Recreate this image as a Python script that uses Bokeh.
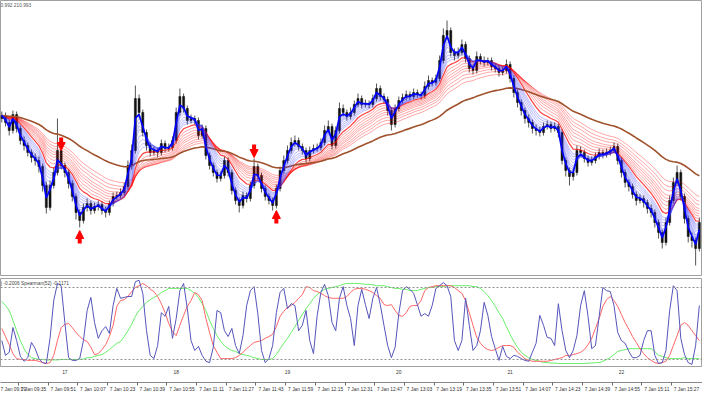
import pandas as pd
from bokeh.plotting import figure
from bokeh.layouts import column
from bokeh.models import (Range1d, ColumnDataSource, Span, Label, LinearAxis,
                          FixedTicker, Arrow, NormalHead)
from bokeh.embed import file_html
from bokeh.resources import INLINE

DAY = "2019-01-07 "
first_bar = "09:26"      # 2-minute bars

open_ = [210.764,210.770,210.756,210.740,210.772,210.744,210.720,210.710,210.696,210.686,
 210.680,210.668,210.630,210.586,210.630,210.656,210.700,210.670,210.656,210.634,
 210.608,210.576,210.560,210.586,210.594,210.580,210.588,210.592,210.580,210.576,
 210.594,210.608,210.610,210.616,210.628,210.670,210.700,210.804,210.776,210.736,
 210.710,210.696,210.700,210.696,210.714,210.704,210.706,210.720,210.776,210.808,
 210.784,210.760,210.764,210.760,210.730,210.744,210.690,210.670,210.656,210.644,
 210.650,210.680,210.656,210.620,210.600,210.590,210.610,210.604,210.630,210.668,
 210.650,210.624,210.608,210.600,210.590,210.624,210.660,210.680,210.700,210.716,
 210.720,210.708,210.700,210.684,210.700,210.704,210.706,210.716,210.740,210.748,
 210.710,210.740,210.784,210.776,210.768,210.776,210.792,210.804,210.792,210.794,
 210.792,210.804,210.824,210.808,210.802,210.780,210.752,210.784,210.800,210.806,
 210.812,210.808,210.816,210.812,210.810,210.828,210.840,210.836,210.844,210.880,
 210.930,210.940,210.896,210.890,210.896,210.912,210.884,210.864,210.860,210.888,
 210.880,210.876,210.880,210.868,210.864,210.856,210.860,210.872,210.844,210.816,
 210.796,210.780,210.764,210.756,210.744,210.740,210.736,210.748,210.752,210.744,
 210.748,210.736,210.680,210.660,210.648,210.656,210.700,210.696,210.684,210.676,
 210.680,210.688,210.696,210.692,210.696,210.700,210.708,210.680,210.656,210.636,
 210.628,210.612,210.600,210.604,210.596,210.584,210.576,210.556,210.536,210.516,
 210.556,210.600,210.636,210.656,210.608,210.564,210.528,210.520,210.504]

close = [210.770,210.756,210.740,210.772,210.744,210.720,210.710,210.696,210.686,210.680,
 210.668,210.630,210.586,210.630,210.656,210.700,210.670,210.656,210.634,210.608,
 210.576,210.560,210.586,210.594,210.580,210.588,210.592,210.580,210.576,210.594,
 210.608,210.610,210.616,210.628,210.670,210.700,210.804,210.776,210.736,210.710,
 210.696,210.700,210.696,210.714,210.704,210.706,210.720,210.776,210.808,210.784,
 210.760,210.764,210.760,210.730,210.744,210.690,210.670,210.656,210.644,210.650,
 210.680,210.656,210.620,210.600,210.590,210.610,210.604,210.630,210.668,210.650,
 210.624,210.608,210.600,210.590,210.624,210.660,210.680,210.700,210.716,210.720,
 210.708,210.700,210.684,210.700,210.704,210.706,210.716,210.740,210.748,210.710,
 210.740,210.784,210.776,210.768,210.776,210.792,210.804,210.792,210.794,210.792,
 210.804,210.824,210.808,210.802,210.780,210.752,210.784,210.800,210.806,210.812,
 210.808,210.816,210.812,210.810,210.828,210.840,210.836,210.844,210.880,210.930,
 210.940,210.896,210.890,210.896,210.912,210.884,210.864,210.860,210.888,210.880,
 210.876,210.880,210.868,210.864,210.856,210.860,210.872,210.844,210.816,210.796,
 210.780,210.764,210.756,210.744,210.740,210.736,210.748,210.752,210.744,210.748,
 210.736,210.680,210.660,210.648,210.656,210.700,210.696,210.684,210.676,210.680,
 210.688,210.696,210.692,210.696,210.700,210.708,210.680,210.656,210.636,210.628,
 210.612,210.600,210.604,210.596,210.584,210.576,210.556,210.536,210.516,210.556,
 210.600,210.636,210.656,210.608,210.564,210.528,210.520,210.504,210.556]

high = [210.778,210.776,210.762,210.780,210.778,210.750,210.728,210.716,210.702,210.694,
 210.688,210.674,210.638,210.640,210.666,210.764,210.706,210.676,210.662,210.640,
 210.614,210.582,210.594,210.604,210.600,210.596,210.600,210.598,210.588,210.600,
 210.616,210.618,210.624,210.636,210.680,210.712,210.830,210.812,210.782,210.742,
 210.716,210.708,210.706,210.722,210.720,210.714,210.728,210.786,210.824,210.814,
 210.790,210.772,210.770,210.766,210.752,210.750,210.696,210.676,210.662,210.658,
 210.688,210.686,210.662,210.626,210.606,210.618,210.616,210.638,210.684,210.674,
 210.656,210.630,210.614,210.606,210.632,210.668,210.690,210.710,210.726,210.730,
 210.726,210.714,210.706,210.708,210.712,210.714,210.724,210.750,210.760,210.754,
 210.748,210.796,210.792,210.782,210.786,210.800,210.814,210.810,210.802,210.800,
 210.812,210.834,210.830,210.814,210.808,210.786,210.792,210.808,210.814,210.820,
 210.818,210.824,210.822,210.818,210.838,210.850,210.846,210.852,210.890,210.944,
 210.960,210.946,210.904,210.906,210.922,210.918,210.890,210.872,210.898,210.894,
 210.888,210.886,210.886,210.874,210.870,210.868,210.882,210.878,210.850,210.822,
 210.802,210.786,210.772,210.762,210.752,210.748,210.756,210.760,210.758,210.756,
 210.754,210.742,210.686,210.666,210.664,210.710,210.708,210.702,210.690,210.688,
 210.696,210.704,210.702,210.704,210.708,210.716,210.714,210.686,210.662,210.642,
 210.634,210.618,210.612,210.610,210.602,210.592,210.582,210.562,210.542,210.566,
 210.610,210.646,210.670,210.662,210.614,210.570,210.536,210.526,210.566]

low = [210.756,210.748,210.730,210.734,210.736,210.712,210.700,210.688,210.676,210.670,
 210.656,210.618,210.574,210.580,210.624,210.650,210.662,210.646,210.624,210.598,
 210.562,210.546,210.554,210.578,210.572,210.574,210.580,210.572,210.566,210.570,
 210.588,210.602,210.604,210.610,210.622,210.662,210.694,210.766,210.728,210.700,
 210.688,210.690,210.686,210.690,210.696,210.698,210.700,210.714,210.770,210.776,
 210.752,210.754,210.752,210.722,210.724,210.682,210.662,210.648,210.636,210.638,
 210.644,210.648,210.612,210.592,210.576,210.584,210.596,210.598,210.624,210.642,
 210.616,210.600,210.592,210.580,210.584,210.618,210.654,210.674,210.694,210.708,
 210.700,210.692,210.676,210.678,210.694,210.698,210.700,210.710,210.734,210.702,
 210.704,210.734,210.768,210.760,210.762,210.770,210.786,210.784,210.786,210.784,
 210.786,210.798,210.800,210.794,210.770,210.740,210.746,210.778,210.794,210.800,
 210.800,210.802,210.806,210.802,210.804,210.822,210.828,210.830,210.838,210.874,
 210.924,210.888,210.880,210.884,210.890,210.876,210.856,210.852,210.854,210.872,
 210.868,210.870,210.860,210.856,210.848,210.850,210.854,210.836,210.806,210.786,
 210.770,210.754,210.746,210.734,210.730,210.728,210.730,210.742,210.736,210.738,
 210.726,210.672,210.648,210.630,210.640,210.650,210.688,210.676,210.668,210.670,
 210.674,210.682,210.684,210.686,210.690,210.694,210.672,210.646,210.626,210.618,
 210.604,210.590,210.594,210.586,210.574,210.566,210.546,210.524,210.504,210.510,
 210.550,210.594,210.630,210.600,210.554,210.516,210.506,210.470,210.498]

spearman_fast = [-0.38,-0.71,-0.64,-0.09,-0.38,-0.73,-0.84,-0.76,-0.42,-0.56,
 -0.78,-0.87,-0.89,-0.33,0.51,0.89,0.84,0.02,-0.76,-0.82,
 -0.82,-0.78,-0.38,0.29,0.58,0.02,-0.33,-0.16,-0.07,-0.22,
 0.40,0.78,0.56,0.58,0.60,0.60,0.93,0.96,0.67,-0.16,
 -0.71,-0.78,-0.49,0.24,0.16,0.38,-0.33,0.11,0.73,0.89,
 0.33,-0.38,-0.60,-0.51,-0.71,-0.84,-0.87,-0.53,0.29,0.24,
 -0.16,-0.29,-0.11,-0.49,-0.67,-0.27,0.40,0.73,0.82,0.22,
 -0.60,-0.87,-0.78,-0.49,0.24,0.69,0.78,0.33,0.44,0.40,
 -0.16,-0.04,0.29,-0.38,-0.67,0.18,0.69,0.87,0.62,0.02,
 -0.16,0.56,0.82,0.40,0.11,-0.49,0.40,0.76,0.42,0.11,
 0.56,0.80,0.42,-0.04,-0.49,-0.76,-0.53,0.22,0.73,0.82,
 0.76,0.67,0.42,0.16,0.22,0.16,0.40,0.78,0.84,0.91,
 0.84,0.60,-0.38,-0.60,-0.38,0.56,-0.04,-0.60,-0.49,-0.16,
 0.47,0.18,-0.29,-0.56,-0.82,-0.51,-0.73,-0.78,-0.71,-0.73,
 -0.78,-0.82,-0.84,-0.64,-0.44,0.18,-0.04,-0.31,-0.33,-0.49,
 0.44,-0.16,-0.60,-0.76,-0.60,-0.27,0.40,0.73,0.16,-0.56,
 -0.49,0.16,0.80,0.73,0.71,0.40,-0.20,-0.38,-0.44,-0.62,
 -0.76,-0.76,-0.71,-0.38,-0.16,-0.16,-0.71,-0.89,-0.87,-0.60,
 0.29,0.84,0.73,-0.33,-0.69,-0.87,-0.91,-0.49,0.40]

spearman_mid = [-0.11,-0.29,-0.47,-0.67,-0.78,-0.80,-0.80,-0.82,-0.82,-0.82,
 -0.84,-0.87,-0.89,-0.87,-0.71,-0.38,-0.09,-0.02,0.00,-0.09,
 -0.20,-0.29,-0.36,-0.40,-0.53,-0.69,-0.67,-0.58,-0.47,-0.29,
 -0.04,0.38,0.51,0.53,0.60,0.71,0.80,0.84,0.89,0.84,
 0.76,0.71,0.60,0.44,0.24,0.00,-0.18,-0.27,-0.04,0.18,
 0.38,0.51,0.69,0.64,0.51,0.11,-0.20,-0.49,-0.64,-0.78,
 -0.78,-0.78,-0.78,-0.76,-0.71,-0.64,-0.56,-0.49,-0.42,-0.40,
 -0.38,-0.33,-0.29,-0.24,-0.07,0.16,0.27,0.36,0.40,0.47,
 0.56,0.64,0.82,0.80,0.73,0.71,0.67,0.62,0.58,0.56,
 0.56,0.56,0.56,0.60,0.69,0.76,0.78,0.78,0.76,0.73,
 0.69,0.62,0.56,0.42,0.40,0.42,0.29,0.18,0.16,0.24,
 0.38,0.40,0.40,0.51,0.73,0.80,0.82,0.84,0.84,0.84,
 0.84,0.84,0.80,0.73,0.67,0.51,0.24,-0.04,-0.31,-0.44,
 -0.53,-0.58,-0.60,-0.58,-0.53,-0.49,-0.49,-0.49,-0.53,-0.64,
 -0.71,-0.78,-0.82,-0.84,-0.84,-0.84,-0.84,-0.84,-0.82,-0.80,
 -0.78,-0.76,-0.71,-0.71,-0.69,-0.67,-0.64,-0.58,-0.47,-0.33,
 -0.11,0.11,0.38,0.53,0.60,0.51,0.38,0.20,0.02,-0.13,
 -0.29,-0.42,-0.56,-0.67,-0.76,-0.82,-0.87,-0.89,-0.87,-0.84,
 -0.71,-0.49,-0.27,-0.04,0.02,-0.04,-0.16,-0.27,-0.38]

spearman_slow = [0.49,0.40,0.29,0.07,-0.16,-0.38,-0.56,-0.69,-0.76,-0.78,
 -0.80,-0.80,-0.81,-0.81,-0.81,-0.81,-0.80,-0.80,-0.80,-0.80,
 -0.80,-0.80,-0.79,-0.76,-0.76,-0.73,-0.71,-0.69,-0.64,-0.58,
 -0.51,-0.44,-0.40,-0.29,-0.16,-0.02,0.16,0.29,0.38,0.47,
 0.53,0.58,0.62,0.69,0.73,0.78,0.78,0.78,0.78,0.78,
 0.78,0.73,0.67,0.58,0.44,0.29,0.07,-0.11,-0.27,-0.40,
 -0.49,-0.56,-0.60,-0.62,-0.67,-0.69,-0.71,-0.73,-0.76,-0.78,
 -0.80,-0.80,-0.80,-0.78,-0.69,-0.56,-0.44,-0.33,-0.20,-0.07,
 0.07,0.20,0.33,0.44,0.56,0.64,0.71,0.76,0.78,0.80,
 0.82,0.84,0.87,0.89,0.89,0.89,0.89,0.88,0.87,0.87,
 0.86,0.84,0.84,0.84,0.82,0.80,0.78,0.78,0.76,0.76,
 0.73,0.73,0.73,0.76,0.78,0.80,0.80,0.82,0.82,0.82,
 0.84,0.84,0.84,0.84,0.84,0.84,0.84,0.82,0.82,0.78,
 0.71,0.62,0.51,0.38,0.24,0.11,-0.07,-0.24,-0.40,-0.53,
 -0.64,-0.71,-0.76,-0.80,-0.82,-0.84,-0.87,-0.87,-0.88,-0.88,
 -0.89,-0.89,-0.89,-0.89,-0.89,-0.89,-0.89,-0.89,-0.88,-0.88,
 -0.87,-0.87,-0.84,-0.80,-0.76,-0.69,-0.62,-0.60,-0.58,-0.56,
 -0.56,-0.56,-0.56,-0.56,-0.56,-0.56,-0.62,-0.71,-0.73,-0.76,
 -0.78,-0.78,-0.78,-0.78,-0.76,-0.78,-0.78,-0.78,-0.78]

sell_time = ["09:58", "11:42"]
sell_price = [210.700, 210.686]
buy_time = ["10:08", "11:54"]
buy_price = [210.540, 210.580]

tick_times = ["09:19", "09:35", "09:51", "10:07", "10:23", "10:39", "10:55", "11:11",
              "11:27", "11:43", "11:59", "12:15", "12:31", "12:47", "13:03", "13:19",
              "13:35", "13:51", "14:07", "14:23", "14:39", "14:55", "15:11", "15:27"]
hour_times = ["10:00", "11:00", "12:00", "13:00", "14:00", "15:00"]
hour_labels = ["17", "18", "19", "20", "21", "22"]

header_text = "0.992 210.993"
indicator_text = ") -0.2006  Spearman(52) -0.1171"

blue_spans = [2.5, 3, 3.5, 4, 5, 6, 7, 8]
blue_main_span = 2
red_spans = [12, 14, 16, 18, 20, 23, 26, 30]
red_main_span = 10
brown_span = 52


def ms(hhmm):
    return int(pd.Timestamp(DAY + hhmm).value // 10**6)


bar_time = pd.date_range(DAY + first_bar, periods=len(close), freq="2min")
x = (bar_time.asi8 // 10**6).tolist()
MIN = 60000
x_range = Range1d(ms("09:25:18"), ms("15:43:42"))

cs = pd.Series(close)


def ema(n):
    return cs.ewm(span=n, adjust=False).mean().tolist()


FONT = "Liberation Sans"
W = 702

main = figure(width=W, height=276, x_range=x_range, y_range=Range1d(210.448, 211.0),
              x_axis_location=None, y_axis_location=None, toolbar_location=None,
              output_backend="svg", min_border=0, background_fill_color="white",
              border_fill_color="white", outline_line_color="#a0a0a0")
main.grid.grid_line_color = None

src = ColumnDataSource(dict(x=x, o=open_, h=high, l=low, c=close))
main.segment("x", "h", "x", "l", source=src, line_color="#555555", line_width=1)
main.vbar(x="x", width=1.1 * MIN, top="o", bottom="c", source=src,
          fill_color="#111111", line_color="#111111", line_width=0.5)

for n in red_spans:
    main.line(x, ema(n), line_color="#ff0000", line_alpha=0.35, line_width=1)
main.line(x, ema(red_main_span), line_color="#ff0000", line_alpha=0.75, line_width=1.2)
main.line(x, ema(brown_span), line_color="#a0522d", line_width=1.6)
for n in blue_spans:
    main.line(x, ema(n), line_color="#3030ff", line_alpha=0.32, line_width=1)
main.line(x, ema(blue_main_span), line_color="#0000ff", line_width=1.7)

ARROW_LEN = 0.026
sell_src = ColumnDataSource(dict(x=[ms(t) for t in sell_time],
                                 y0=[p + ARROW_LEN for p in sell_price], y1=sell_price))
buy_src = ColumnDataSource(dict(x=[ms(t) for t in buy_time],
                                y0=[p - ARROW_LEN for p in buy_price], y1=buy_price))
for s in (sell_src, buy_src):
    main.add_layout(Arrow(end=NormalHead(size=8, fill_color="#ff0000", line_color="#ff0000"),
                          x_start="x", y_start="y0", x_end="x", y_end="y1", source=s,
                          line_color="#ff0000", line_width=4))

main.add_layout(Label(x=x_range.start, y=211.0, text=header_text, text_baseline="top",
                      x_offset=0, y_offset=-2, text_font=FONT, text_font_size="4.8px",
                      text_color="#555555"))

ind = figure(width=W, height=119, x_range=x_range, y_range=Range1d(-0.956, 1.0),
             x_axis_location=None, y_axis_location=None, toolbar_location=None,
             output_backend="svg", min_border_left=0, min_border_right=0,
             min_border_top=2, min_border_bottom=29, background_fill_color="white",
             border_fill_color="white", outline_line_color="#a0a0a0")
ind.grid.grid_line_color = None

for lvl in (0.8, -0.8):
    ind.add_layout(Span(location=lvl, dimension="width", line_color="#909090",
                        line_dash="2 2", line_width=1))

ind.line(x, spearman_slow, line_color="#66ee66", line_width=1)
ind.line(x, spearman_mid, line_color="#ff6666", line_width=1)
ind.line(x, spearman_fast, line_color="#5555bb", line_width=1)

ind.add_layout(Label(x=x_range.start, y=1.0, text=indicator_text, text_baseline="top",
                     y_offset=-2, text_font=FONT, text_font_size="4.8px",
                     text_color="#444444"))

hour_ax = LinearAxis(ticker=FixedTicker(ticks=[ms(t) for t in hour_times], minor_ticks=[]),
                     major_label_overrides={ms(t): lab for t, lab in zip(hour_times, hour_labels)},
                     axis_line_color=None, major_tick_line_color=None, minor_tick_line_color=None,
                     major_tick_out=0, major_tick_in=0, major_label_standoff=3,
                     major_label_text_font=FONT, major_label_text_font_size="4.9px",
                     major_label_text_color="#333333",
                     axis_label=" ", axis_label_standoff=0, axis_label_text_font_size="3px")
ind.add_layout(hour_ax, "below")

SHIFT = int(8.1 * MIN)
tick_ms = [ms(t) for t in tick_times]
time_ax = LinearAxis(ticker=FixedTicker(ticks=[t + SHIFT for t in tick_ms], minor_ticks=tick_ms),
                     major_label_overrides={t + SHIFT: "7 Jan " + s for t, s in zip(tick_ms, tick_times)},
                     axis_line_color="#8a8a8a", major_tick_line_color=None,
                     minor_tick_line_color="#6a6a6a", minor_tick_out=3, minor_tick_in=0,
                     major_tick_out=2, major_tick_in=0, major_label_standoff=1,
                     major_label_text_font=FONT, major_label_text_font_size="4.9px",
                     major_label_text_color="#333333")
ind.add_layout(time_ax, "below")

layout = column(main, ind, spacing=0)
open("out.html", "w").write(file_html(layout, INLINE))
